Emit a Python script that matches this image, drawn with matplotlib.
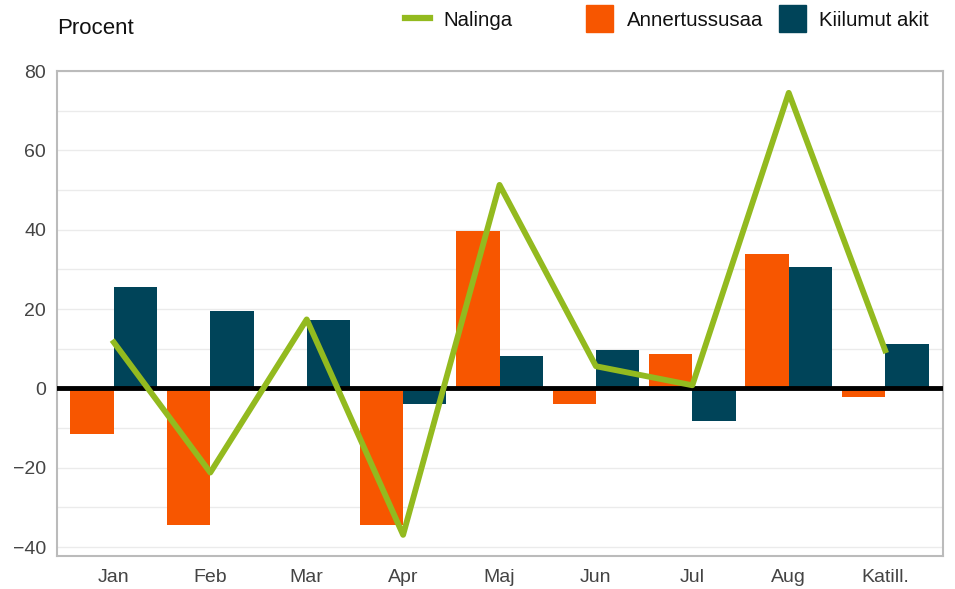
import numpy as np
import matplotlib.pyplot as plt
from matplotlib.lines import Line2D
from matplotlib.patches import Rectangle

plt.rcParams['font.family'] = ['Liberation Sans', 'DejaVu Sans']

months = ['Jan', 'Feb', 'Mar', 'Apr', 'Maj', 'Jun', 'Jul', 'Aug', 'Katill.']
nalinga = [11.6, -21.2, 17.4, -36.9, 51.3, 5.6, 0.8, 74.5, 9.6]
annertussusaa = [-11.4, -34.3, 0.0, -34.3, 39.6, -4.0, 8.6, 33.8, -2.2]
kiilumut = [25.5, 19.4, 17.2, -4.0, 8.1, 9.8, -8.3, 30.6, 11.1]

c_line = '#93BA1F'
c_orange = '#F75600'
c_dark = '#004459'

W, H = 955, 589
fig = plt.figure(figsize=(W / 100, H / 100), dpi=100)
ax = fig.add_axes([57 / W, 1 - 555.5 / H, 886 / W, 484.5 / H])

x = np.arange(len(months))
w = 0.45
ax.bar(x - w / 2, annertussusaa, w, color=c_orange, zorder=2)
ax.bar(x + w / 2, kiilumut, w, color=c_dark, zorder=2)
ax.axhline(0, color='black', lw=3.5, zorder=3)
ax.plot(x, nalinga, color=c_line, lw=4.2, zorder=4)

ax.set_xlim(-0.59, 8.6)
ax.set_ylim(-42.1, 80)
yt = np.arange(-40, 81, 20)
ax.set_yticks(yt)
ax.set_yticks(np.arange(-40, 81, 10), minor=True)
ax.set_yticklabels([str(v).replace('-', '\u2212') for v in yt])
ax.set_xticks(x)
ax.set_xticklabels(months)
ax.grid(axis='y', which='both', color='#EBEBEB', lw=1, zorder=0)
ax.tick_params(axis='both', which='both', length=0, labelsize=14, colors='#444444')
ax.tick_params(axis='y', pad=8)
ax.tick_params(axis='x', pad=9.5)
for s in ax.spines.values():
    s.set_color('#BBBBBB')
    s.set_linewidth(1.5)

fig.text(57 / W, 1 - 34 / H, 'Procent', fontsize=16, color='#111111', va='baseline')

# legend, placed by hand to keep the original uneven spacing
fig.add_artist(Line2D([405 / W, 430 / W], [1 - 18 / H, 1 - 18 / H],
                      color=c_line, lw=4.5, transform=fig.transFigure))
fig.add_artist(Rectangle((586 / W, 1 - 32 / H), 27 / W, 27 / H,
                         color=c_orange, transform=fig.transFigure))
fig.add_artist(Rectangle((779 / W, 1 - 32 / H), 27 / W, 27 / H,
                         color=c_dark, transform=fig.transFigure))
lg_y = 1 - 26.5 / H
fig.text(443 / W, lg_y, 'Nalinga', fontsize=14.7, color='#111111', va='baseline')
fig.text(627 / W, lg_y, 'Annertussusaa', fontsize=14.7, color='#111111', va='baseline')
fig.text(819 / W, lg_y, 'Kiilumut akit', fontsize=14.7, color='#111111', va='baseline')

fig.savefig('out.png', dpi=100)
